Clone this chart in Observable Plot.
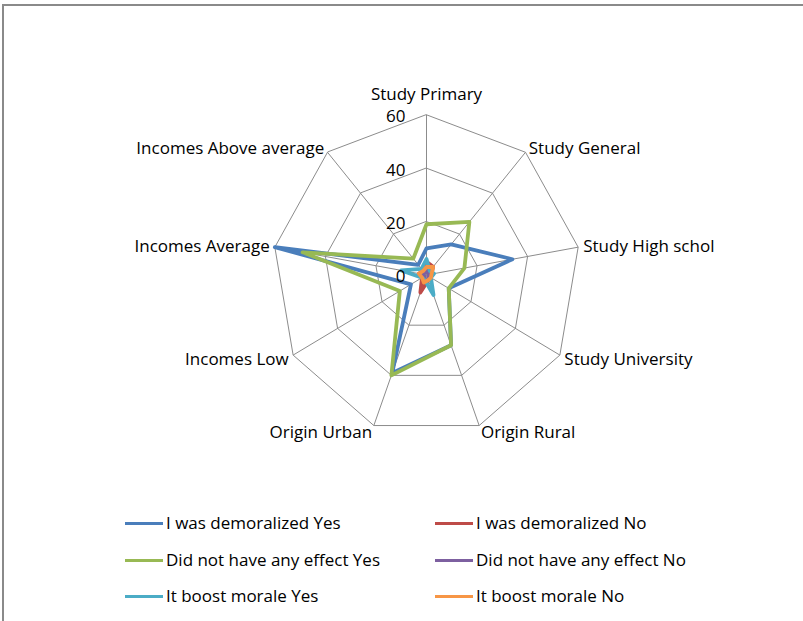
<!DOCTYPE html>
<html><head><meta charset="utf-8">
<script src="https://cdn.jsdelivr.net/npm/d3@7"></script>
<script src="https://cdn.jsdelivr.net/npm/@observablehq/plot@0.6"></script>
<style>
body{margin:0;background:#fff;font-family:"Open Sans",sans-serif;}
#wrap{position:relative;width:803px;height:621px;overflow:hidden;background:#fff;}
#frame{position:absolute;left:2px;top:4px;width:840px;height:660px;border-top:2px solid #8a8a8a;border-left:2px solid #8a8a8a;}
#chart{position:absolute;left:0;top:0;}
.leg{position:absolute;font-size:17px;color:#000;white-space:nowrap;line-height:20px;}
.leg .sw{display:inline-block;width:38px;height:3.5px;vertical-align:middle;margin-right:3px;position:relative;top:-1px;}
</style></head>
<body><div id="wrap"><div id="frame"></div><div id="chart"></div></div>
<script>
const axes = ["Study Primary","Study General","Study High schol","Study University","Origin Rural","Origin Urban","Incomes Low","Incomes Average","Incomes Above average"];
const seriesNames = ["I was demoralized Yes","I was demoralized No","Did not have any effect Yes","Did not have any effect No","It boost morale Yes","It boost morale No"];
const demoralizedYes = [10,15,34,10,28,39,7,60,5];
const demoralizedNo  = [5,4,2,1,2,7,2,3,2];
const noEffectYes    = [19,26,15,10,28,40,12,49,8];
const noEffectNo     = [2,1,1,1,2,2,1,2,1];
const boostYes       = [6,2,3,2,8,2,2,10,3];
const boostNo        = [3,4,2,2,2,3,2,3,2];
const seriesColors = ["#4A7EBB","#BE4B48","#98B954","#7D60A0","#4BACC6","#F79646"];
const gridLevels = [20,40,60];
const tickValues = [0,20,40,60];
const tickLabels = ["0","20","40","60"];

const seriesValues = [demoralizedYes,demoralizedNo,noEffectYes,noEffectNo,boostYes,boostNo];
const n = axes.length;
const ang = i => 2*Math.PI*i/n;
const pt = (v,i) => ({x: v*Math.sin(ang(i)), y: v*Math.cos(ang(i))});

const rows = [];
seriesValues.forEach((vals,s)=>vals.forEach((v,i)=>rows.push({series:seriesNames[s], color:seriesColors[s], ...pt(v,i)})));
const gridRows = [];
gridLevels.forEach(L=>axes.forEach((a,i)=>gridRows.push({level:L, ...pt(L,i)})));
const spokes = axes.map((a,i)=>({x1:0,y1:0,x2:pt(60,i).x,y2:pt(60,i).y}));
const labels = axes.map((a,i)=>({label:a, s:Math.sin(ang(i)), c:Math.cos(ang(i)), ...pt(62,i)}));
const ticks = tickValues.map((v,k)=>({x:0,y:v,label:tickLabels[k]}));

const font = "Open Sans";
const plot = Plot.plot({
  width:803, height:621, margin:0,
  x:{domain:[-60,60], range:[272,580], axis:null},
  y:{domain:[-60,60], range:[434.7,114.3], axis:null},
  style:{fontFamily:font, background:"transparent"},
  marks:[
    Plot.link(spokes,{x1:"x1",y1:"y1",x2:"x2",y2:"y2",stroke:"#8c8c8c",strokeWidth:1}),
    Plot.line(gridRows,{x:"x",y:"y",z:"level",curve:"linear-closed",stroke:"#8c8c8c",strokeWidth:1}),
    Plot.line(rows,{x:"x",y:"y",z:"series",stroke:"color",curve:"linear-closed",strokeWidth:3.8,strokeLinejoin:"round"}),
    Plot.text(ticks,{x:"x",y:"y",text:"label",textAnchor:"end",dx:-21,dy:2,fontSize:17,fill:"#000"}),
    Plot.text(labels.filter(d=>Math.abs(d.s)<0.1),{x:"x",y:"y",text:"label",textAnchor:"middle",lineAnchor:"bottom",dy:-9,fontSize:17,fill:"#000"}),
    Plot.text(labels.filter(d=>d.s>=0.1 && d.c>0),{x:"x",y:"y",text:"label",textAnchor:"start",dy:0,fontSize:17,fill:"#000"}),
    Plot.text(labels.filter(d=>d.s>=0.1 && d.c<=0),{x:"x",y:"y",text:"label",textAnchor:"start",dy:2,fontSize:17,fill:"#000"}),
    Plot.text(labels.filter(d=>d.s<=-0.1 && d.c>0),{x:"x",y:"y",text:"label",textAnchor:"end",dy:0,fontSize:17,fill:"#000"}),
    Plot.text(labels.filter(d=>d.s<=-0.1 && d.c<=0),{x:"x",y:"y",text:"label",textAnchor:"end",dy:2,fontSize:17,fill:"#000"})
  ]
});
document.getElementById("chart").appendChild(plot);

const legPos = [[125,523],[435,523],[125,560],[435,560],[125,596],[435,596]];
const wrap = document.getElementById("wrap");
seriesNames.forEach((nm,i)=>{
  const d = document.createElement("div");
  d.className="leg";
  d.style.left = legPos[i][0]+"px";
  d.style.top = (legPos[i][1]-10)+"px";
  d.innerHTML = `<span class="sw" style="background:${seriesColors[i]}"></span>${nm}`;
  wrap.appendChild(d);
});
</script></body></html>
